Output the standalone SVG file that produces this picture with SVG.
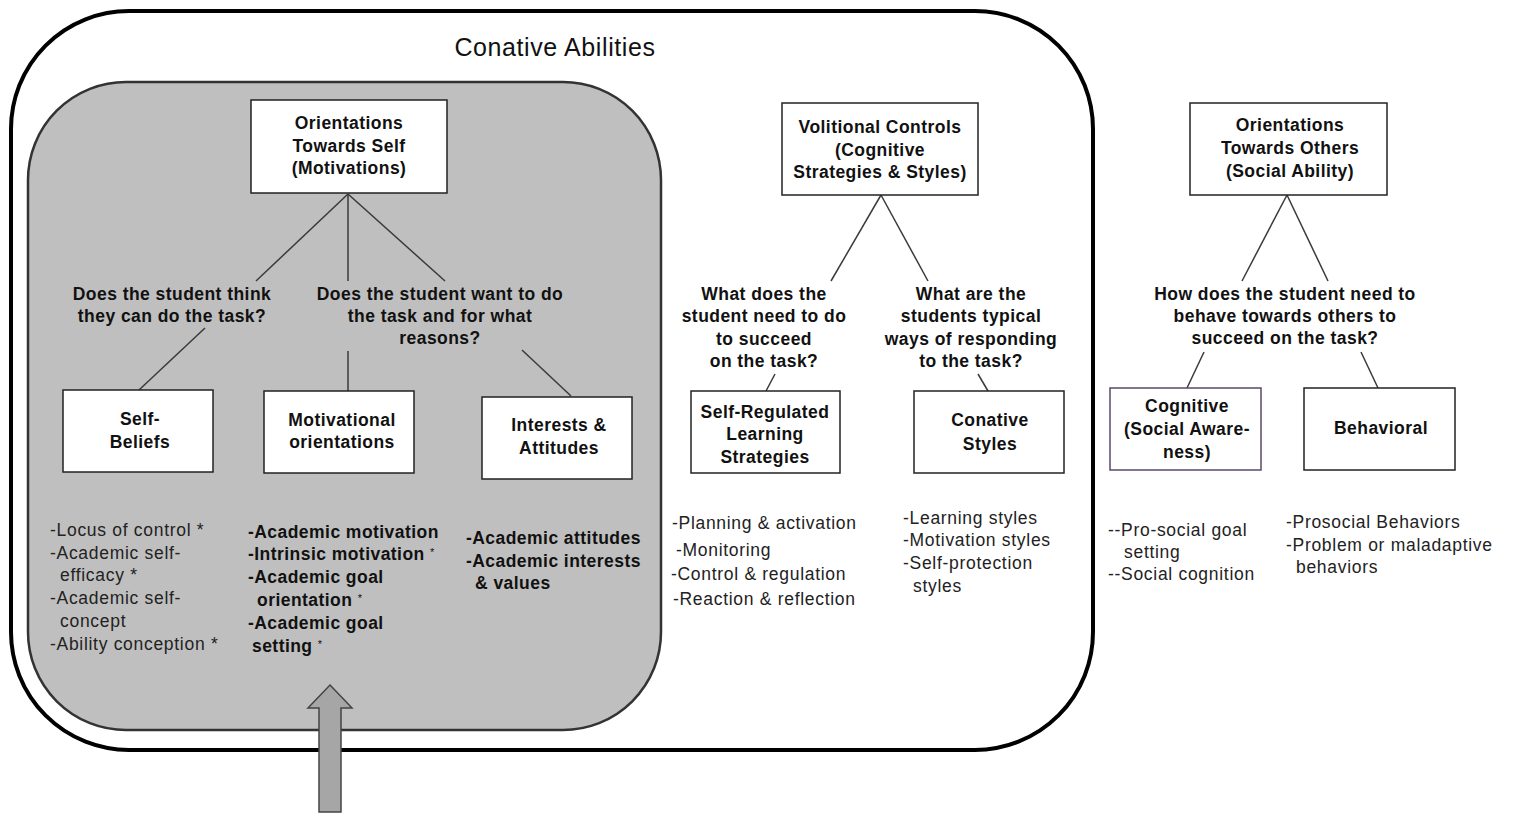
<svg xmlns="http://www.w3.org/2000/svg" width="1515" height="814" viewBox="0 0 1515 814">
<style>
.box{fill:#fff;stroke:#222;stroke-width:1.5}
.b{font-family:"Liberation Sans",Arial,sans-serif;font-weight:bold;font-size:17.5px;fill:#111;letter-spacing:0.45px}
.n{font-family:"Liberation Sans",Arial,sans-serif;font-size:17.5px;fill:#222;letter-spacing:0.7px}
.c{text-anchor:middle}
.ln{stroke:#3a3a3a;stroke-width:1.5;fill:none}
</style>
<rect width="1515" height="814" fill="#fff"/>
<g id="outer">
<rect x="11" y="11" width="1082" height="739" rx="118" ry="118" fill="#fff" stroke="#000" stroke-width="4"/>
<text x="555" y="56" text-anchor="middle" font-family="Liberation Sans,Arial,sans-serif" font-size="25" letter-spacing="0.6" fill="#111">Conative Abilities</text>
</g>
<g id="inner">
<rect x="28" y="82" width="633" height="648" rx="98" ry="98" fill="#bfbfbf" stroke="#333" stroke-width="2.5"/>
</g>
<g id="connectors">
<line class="ln" x1="348" y1="194" x2="256" y2="281"/>
<line class="ln" x1="348" y1="194" x2="348" y2="281"/>
<line class="ln" x1="348" y1="194" x2="445" y2="281"/>
<line class="ln" x1="205" y1="328" x2="139" y2="390"/>
<line class="ln" x1="348" y1="351" x2="348" y2="391"/>
<line class="ln" x1="522" y1="350" x2="571" y2="396"/>
<line class="ln" x1="881" y1="195" x2="831" y2="281"/>
<line class="ln" x1="881" y1="195" x2="928" y2="281"/>
<line class="ln" x1="775" y1="374" x2="766" y2="391"/>
<line class="ln" x1="978" y1="374" x2="988" y2="391"/>
<line class="ln" x1="1287" y1="195" x2="1242" y2="281"/>
<line class="ln" x1="1287" y1="195" x2="1328" y2="281"/>
<line class="ln" x1="1204" y1="352" x2="1187" y2="388"/>
<line class="ln" x1="1361" y1="352" x2="1378" y2="388"/>
</g>
<g id="arrow">
<polygon points="330,685 352,708 341,708 341,812 319,812 319,708 308,708" fill="#a6a6a6" stroke="#444" stroke-width="1.5"/>
</g>
<g id="n-self">
<rect class="box" x="251" y="100" width="196" height="93"/>
<text class="b c" x="349" y="129">Orientations</text>
<text class="b c" x="349" y="152">Towards Self</text>
<text class="b c" x="349" y="174">(Motivations)</text>
</g>
<g id="q-think">
<text class="b c" x="172" y="300">Does the student think</text>
<text class="b c" x="172" y="322">they can do the task?</text>
</g>
<g id="q-want">
<text class="b c" x="440" y="300">Does the student want to do</text>
<text class="b c" x="440" y="322">the task and for what</text>
<text class="b c" x="440" y="344">reasons?</text>
</g>
<g id="n-selfbeliefs">
<rect class="box" x="63" y="390" width="150" height="82"/>
<text class="b c" x="140" y="425">Self-</text>
<text class="b c" x="140" y="448">Beliefs</text>
</g>
<g id="n-motivational">
<rect class="box" x="264" y="391" width="150" height="82"/>
<text class="b c" x="342" y="426">Motivational</text>
<text class="b c" x="342" y="448">orientations</text>
</g>
<g id="n-interests">
<rect class="box" x="482" y="397" width="150" height="82"/>
<text class="b c" x="559" y="431">Interests &amp;</text>
<text class="b c" x="559" y="454">Attitudes</text>
</g>
<g id="t-selfbeliefs">
<text class="n" x="50" y="536">-Locus of control *</text>
<text class="n" x="50" y="559">-Academic self-</text>
<text class="n" x="60" y="581">efficacy *</text>
<text class="n" x="50" y="604">-Academic self-</text>
<text class="n" x="60" y="627">concept</text>
<text class="n" x="50" y="650">-Ability conception *</text>
</g>
<g id="t-motivational">
<text class="b" x="248" y="538">-Academic motivation</text>
<text class="b" x="248" y="560">-Intrinsic motivation <tspan font-weight="normal" font-size="11" dy="-4">*</tspan></text>
<text class="b" x="248" y="583">-Academic goal</text>
<text class="b" x="257" y="606">orientation <tspan font-weight="normal" font-size="11" dy="-4">*</tspan></text>
<text class="b" x="248" y="629">-Academic goal</text>
<text class="b" x="252" y="652">setting <tspan font-weight="normal" font-size="11" dy="-4">*</tspan></text>
</g>
<g id="t-interests">
<text class="b" x="466" y="544">-Academic attitudes</text>
<text class="b" x="466" y="567">-Academic interests</text>
<text class="b" x="475" y="589">&amp; values</text>
</g>
<g id="n-volitional">
<rect class="box" x="782" y="103" width="196" height="92"/>
<text class="b c" x="880" y="133">Volitional Controls</text>
<text class="b c" x="880" y="156">(Cognitive</text>
<text class="b c" x="880" y="178">Strategies &amp; Styles)</text>
</g>
<g id="q-need">
<text class="b c" x="764" y="300">What does the</text>
<text class="b c" x="764" y="322">student need to do</text>
<text class="b c" x="764" y="345">to succeed</text>
<text class="b c" x="764" y="367">on the task?</text>
</g>
<g id="q-typical">
<text class="b c" x="971" y="300">What are the</text>
<text class="b c" x="971" y="322">students typical</text>
<text class="b c" x="971" y="345">ways of responding</text>
<text class="b c" x="971" y="367">to the task?</text>
</g>
<g id="n-srl">
<rect class="box" x="691" y="391" width="149" height="82"/>
<text class="b c" x="765" y="418">Self-Regulated</text>
<text class="b c" x="765" y="440">Learning</text>
<text class="b c" x="765" y="463">Strategies</text>
</g>
<g id="n-conative">
<rect class="box" x="914" y="391" width="150" height="82"/>
<text class="b c" x="990" y="426">Conative</text>
<text class="b c" x="990" y="450">Styles</text>
</g>
<g id="t-srl">
<text class="n" x="672" y="529">-Planning &amp; activation</text>
<text class="n" x="676" y="556">-Monitoring</text>
<text class="n" x="671" y="580">-Control &amp; regulation</text>
<text class="n" x="673" y="605">-Reaction &amp; reflection</text>
</g>
<g id="t-conative">
<text class="n" x="903" y="524">-Learning styles</text>
<text class="n" x="903" y="546">-Motivation styles</text>
<text class="n" x="903" y="569">-Self-protection</text>
<text class="n" x="913" y="592">styles</text>
</g>
<g id="n-others">
<rect class="box" x="1190" y="103" width="197" height="92"/>
<text class="b c" x="1290" y="131">Orientations</text>
<text class="b c" x="1290" y="154">Towards Others</text>
<text class="b c" x="1290" y="177">(Social Ability)</text>
</g>
<g id="q-behave">
<text class="b c" x="1285" y="300">How does the student need to</text>
<text class="b c" x="1285" y="322">behave towards others to</text>
<text class="b c" x="1285" y="344">succeed on the task?</text>
</g>
<g id="n-cognitive">
<rect x="1110" y="388" width="151" height="82" fill="#fff" stroke="#5a4868" stroke-width="1.5"/>
<text class="b c" x="1187" y="412">Cognitive</text>
<text class="b c" x="1187" y="435">(Social Aware-</text>
<text class="b c" x="1187" y="458">ness)</text>
</g>
<g id="n-behavioral">
<rect class="box" x="1304" y="388" width="151" height="82"/>
<text class="b c" x="1381" y="434">Behavioral</text>
</g>
<g id="t-cognitive">
<text class="n" x="1108" y="536">--Pro-social goal</text>
<text class="n" x="1124" y="558">setting</text>
<text class="n" x="1108" y="580">--Social cognition</text>
</g>
<g id="t-behavioral">
<text class="n" x="1286" y="528">-Prosocial Behaviors</text>
<text class="n" x="1286" y="551">-Problem or maladaptive</text>
<text class="n" x="1296" y="573">behaviors</text>
</g>
</svg>
